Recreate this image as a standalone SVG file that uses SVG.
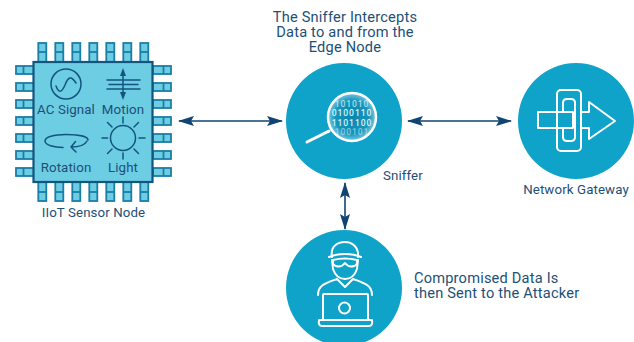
<svg xmlns="http://www.w3.org/2000/svg" width="634" height="342" viewBox="0 0 634 342">
<defs>
<marker id="ah" viewBox="0 0 16 10" refX="15" refY="5" markerWidth="16" markerHeight="10" markerUnits="userSpaceOnUse" orient="auto-start-reverse"><path d="M0 0L16 5L0 10L3 5Z" fill="#0f4473"/></marker>
<g id="pinT"><rect class="p" x="-4" y="0" width="8" height="19"/><line class="p" x1="-4" y1="9" x2="4" y2="9"/></g>
<g id="pinL"><rect class="p" x="0" y="-4" width="18" height="8"/><line class="p" x1="7.500" y1="-4" x2="7.500" y2="4"/></g>
<radialGradient id="lensFill"><stop offset="0" stop-color="#0a86ad"/><stop offset=".7" stop-color="#1796bd"/><stop offset="1" stop-color="#7cc9e0"/></radialGradient>
</defs>
<style>
text{font-family:Roboto,"Liberation Sans",sans-serif;fill:#1d4f78;font-size:13.300px;font-weight:400;letter-spacing:.1px}
.m{text-anchor:middle}
.big{font-size:14.600px;letter-spacing:.2px}
.c{fill:#0fa3c9}
.w{fill:none;stroke:#fff;stroke-width:2;stroke-linecap:round;stroke-linejoin:round}
.p{fill:#6ccde3;stroke:#1a7ea6;stroke-width:1.800}
.d{fill:none;stroke:#12557f;stroke-width:1.500;stroke-linecap:round;stroke-linejoin:round}
.con{fill:none;stroke:#0f4473;stroke-width:1.600;marker-start:url(#ah);marker-end:url(#ah)}
.b{font-size:8.600px;fill:#d5f1f8;text-anchor:middle;letter-spacing:.9px;font-weight:500}
</style>
<rect width="634" height="342" fill="#fff"/>
<g id="connectors">
<line class="con" x1="179" y1="121" x2="282" y2="121"/>
<line class="con" x1="408" y1="121" x2="511" y2="121"/>
<line class="con" x1="345" y1="183" x2="345" y2="229"/>
</g>
<g id="sensor-node">
<use href="#pinT" x="42.300" y="43"/><use href="#pinT" x="59.300" y="43"/><use href="#pinT" x="76.300" y="43"/><use href="#pinT" x="93.300" y="43"/><use href="#pinT" x="110.300" y="43"/><use href="#pinT" x="127.300" y="43"/><use href="#pinT" x="144.300" y="43"/>
<g transform="translate(0 245) scale(1 -1)"><use href="#pinT" x="42.300" y="44"/><use href="#pinT" x="59.300" y="44"/><use href="#pinT" x="76.300" y="44"/><use href="#pinT" x="93.300" y="44"/><use href="#pinT" x="110.300" y="44"/><use href="#pinT" x="127.300" y="44"/><use href="#pinT" x="144.300" y="44"/></g>
<use href="#pinL" x="16" y="70"/><use href="#pinL" x="16" y="87"/><use href="#pinL" x="16" y="104"/><use href="#pinL" x="16" y="121"/><use href="#pinL" x="16" y="138"/><use href="#pinL" x="16" y="155"/><use href="#pinL" x="16" y="172"/>
<g transform="translate(187 0) scale(-1 1)"><use href="#pinL" x="16" y="70"/><use href="#pinL" x="16" y="87"/><use href="#pinL" x="16" y="104"/><use href="#pinL" x="16" y="121"/><use href="#pinL" x="16" y="138"/><use href="#pinL" x="16" y="155"/><use href="#pinL" x="16" y="172"/></g>
<rect x="33.500" y="62" width="119" height="120" fill="#6ccde3" stroke="#12557f" stroke-width="2.200"/>
<circle class="d" cx="66" cy="84" r="15"/>
<path class="d" d="M56 86C59 94 62 92 65 85C68 77 71 75 76 83"/>
<path class="d" d="M107 80H140M109 84.500H138M107 89H140M123 72V96"/>
<path d="M123 68L126 76H120ZM123 100L126 92H120Z" fill="#12557f"/>
<text class="m" x="66" y="114">AC Signal</text>
<text class="m" x="123" y="114">Motion</text>
<path class="d" d="M63 147.500C54 147.500 45 145 45 141C45 137 54 134.500 66 134.500C76 134.500 88 136 88 140"/>
<path class="d" d="M71 147C78 147 85 145 87 141M75.500 141.500L71 147L76 152"/>
<text class="m" x="66" y="172">Rotation</text>
<circle class="d" cx="123" cy="138" r="12.500"/>
<path class="d" d="M123 117V123M123 153V159M102 138H107.500M139 138H145M107.500 122.500L112 127M134 149L138.500 153.500M138.500 122.500L134 127M112 149L107.500 153.500"/>
<text class="m" x="123" y="172">Light</text>
<text class="m" x="93.500" y="217">IIoT Sensor Node</text>
</g>
<g id="sniffer">
<circle class="c" cx="344" cy="121" r="58"/>
<clipPath id="lens"><circle cx="352" cy="117" r="23"/></clipPath>
<circle cx="352" cy="117" r="24" fill="url(#lensFill)"/>
<g clip-path="url(#lens)">
<text class="b" x="352" y="106.500" opacity=".75">101010</text>
<text class="b" x="352" y="116">0100110</text>
<text class="b" x="352" y="125.500">1101100</text>
<text class="b" x="352" y="135" opacity=".55">100101</text>
</g>
<circle class="w" cx="352" cy="117" r="24" style="stroke-width:2.500"/>
<path class="w" d="M329 131L307 142" style="stroke-width:3"/>
<text x="383" y="180">Sniffer</text>
</g>
<g id="gateway">
<circle class="c" cx="576" cy="121" r="58"/>
<path class="w" d="M581 112H589V102L615 121L589 139V128H581M573 128H538V112H573V128"/>
<rect class="w" x="557" y="90" width="24" height="61" rx="4"/>
<path class="w" d="M563 112V103Q563 99 567 99H571Q575 99 575 103V137Q575 141 571 141H567Q563 141 563 137V128"/>
<text class="m" x="576" y="194">Network Gateway</text>
</g>
<g id="attacker">
<circle class="c" cx="344" cy="288" r="58"/>
<path class="w" d="M332 257C330 246 338 242 345 242C352 242 359 247 358 257M329 257C338 253 352 253 361 257"/>
<path class="w" d="M332 260L333 269C335 275 339 279 345 279C351 279 355 275 357 269L358 260"/>
<path class="w" d="M333 260Q345 257 357 260Q358 265 354 266Q349 268 345 263Q341 268 336 266Q332 265 333 260Z"/>
<path class="w" d="M318 295C318 285 326 283 337 279L345 287L353 279C364 283 372 285 372 295"/>
<rect x="323" y="294" width="45" height="26" rx="1" class="w"/>
<circle class="w" cx="344.500" cy="308" r="5.500"/>
<path class="w" d="M319 320H372Q373 326 369 326H322Q318 326 319 320Z"/>
<text class="big" y="283"><tspan x="414">Compromised Data Is</tspan><tspan x="414" dy="15">then Sent to the Attacker</tspan></text>
</g>
<g id="title">
<text class="m big" y="22"><tspan x="345">The Sniffer Intercepts</tspan><tspan x="345" dy="15">Data to and from the</tspan><tspan x="345" dy="15">Edge Node</tspan></text>
</g>
</svg>
